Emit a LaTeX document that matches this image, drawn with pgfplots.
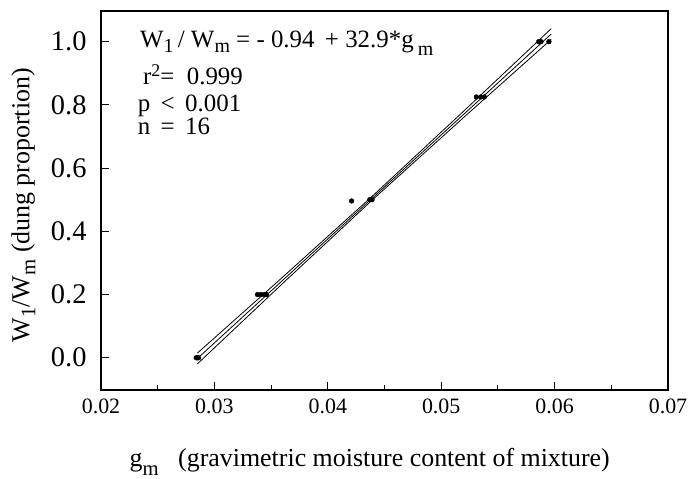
\documentclass[border=0pt]{standalone}
\usepackage{fontspec}
\setmainfont{Liberation Serif}
\usepackage{graphicx}
\usepackage{pgfplots}
\pgfplotsset{compat=1.18}
% subscripts / superscripts set in text font
\newcommand{\sub}[1]{\raisebox{-0.5ex}{\scalebox{0.8}{#1}}}
\newcommand{\subb}[1]{\raisebox{-0.75ex}{\scalebox{0.8}{#1}}}
\newcommand{\sups}[1]{\raisebox{0.75ex}{\scalebox{0.72}{#1}}}

\begin{document}
\begin{tikzpicture}
\begin{axis}[
  scale only axis,
  width=567bp, height=379bp,
  xmin=0.02, xmax=0.07,
  ymin=-0.102, ymax=1.097,
  xtick={0.02,0.03,0.04,0.05,0.06,0.07},
  minor xtick={0.025,0.035,0.045,0.055,0.065},
  ytick={0,0.2,0.4,0.6,0.8,1.0},
  tick align=inside,
  xtick pos=bottom, ytick pos=left,
  major tick length=8bp, minor tick length=5bp,
  tick style={black, line width=0.9pt},
  axis line style={line width=1.1pt},
  /pgf/number format/assume math mode=true,
  xticklabel style={font=\fontsize{22}{26}\selectfont, yshift=-5bp,
    /pgf/number format/fixed, /pgf/number format/fixed zerofill, /pgf/number format/precision=2},
  yticklabel style={font=\fontsize{28.5}{32}\selectfont, xshift=-11bp,
    /pgf/number format/fixed, /pgf/number format/fixed zerofill, /pgf/number format/precision=1},
  scaled x ticks=false,
  label style={font=\fontsize{26}{30}\selectfont},
  xlabel={g\subb{m}\ \ \ (gravimetric moisture content of mixture)},
  ylabel={W\sub{1}/W\sub{m} (dung proportion)},
  xlabel style={at={(axis description cs:0.474,-0.203)}, anchor=base},
  ylabel style={at={(axis description cs:-0.137,0.488)}, anchor=center},
  clip=false,
]
% fitted line and confidence bands
\addplot[black, line width=0.8pt] coordinates {(0.0285,-0.0024) (0.0597,1.0241)};
\addplot[black, line width=0.8pt] coordinates {
  (0.0285,0.0147) (0.0360,0.2544) (0.0440,0.5136) (0.0520,0.7808) (0.0597,1.0411)};
\addplot[black, line width=0.8pt] coordinates {
  (0.0285,-0.0194) (0.0360,0.2344) (0.0440,0.5016) (0.0520,0.7608) (0.0597,1.0071)};
% observations
\addplot[only marks, mark=*, mark size=2.4pt, black] coordinates {
  (0.0284,0.0) (0.0285,0.0) (0.0286,0.0)
  (0.0338,0.2) (0.0341,0.2) (0.0344,0.2) (0.0346,0.2)
  (0.0421,0.496) (0.0437,0.5) (0.0439,0.5)
  (0.0531,0.825) (0.0535,0.825) (0.0538,0.825)
  (0.0586,1.0) (0.0588,1.0) (0.0595,1.0)};
\node[anchor=base west, font=\fontsize{25}{29}\selectfont] at (rel axis cs:0.063,0.905)
  {W\sub{1}\,/ W\sub{m} = - 0.94 \,+ 32.9*g\,\subb{m}};
\node[anchor=base west, font=\fontsize{25}{29}\selectfont] at (rel axis cs:0.068,0.805) {r\sups{2}=\ \ 0.999};
\node[anchor=base west, font=\fontsize{25}{29}\selectfont, inner sep=1pt] at (rel axis cs:0.063,0.736) {p \,<\, 0.001};
\node[anchor=base west, font=\fontsize{25}{29}\selectfont, inner sep=1pt] at (rel axis cs:0.063,0.673) {n \,=\, 16};
\end{axis}
\pgfresetboundingbox
\path (-101bp,-89bp) rectangle (587bp,390bp);
\end{tikzpicture}
\end{document}
